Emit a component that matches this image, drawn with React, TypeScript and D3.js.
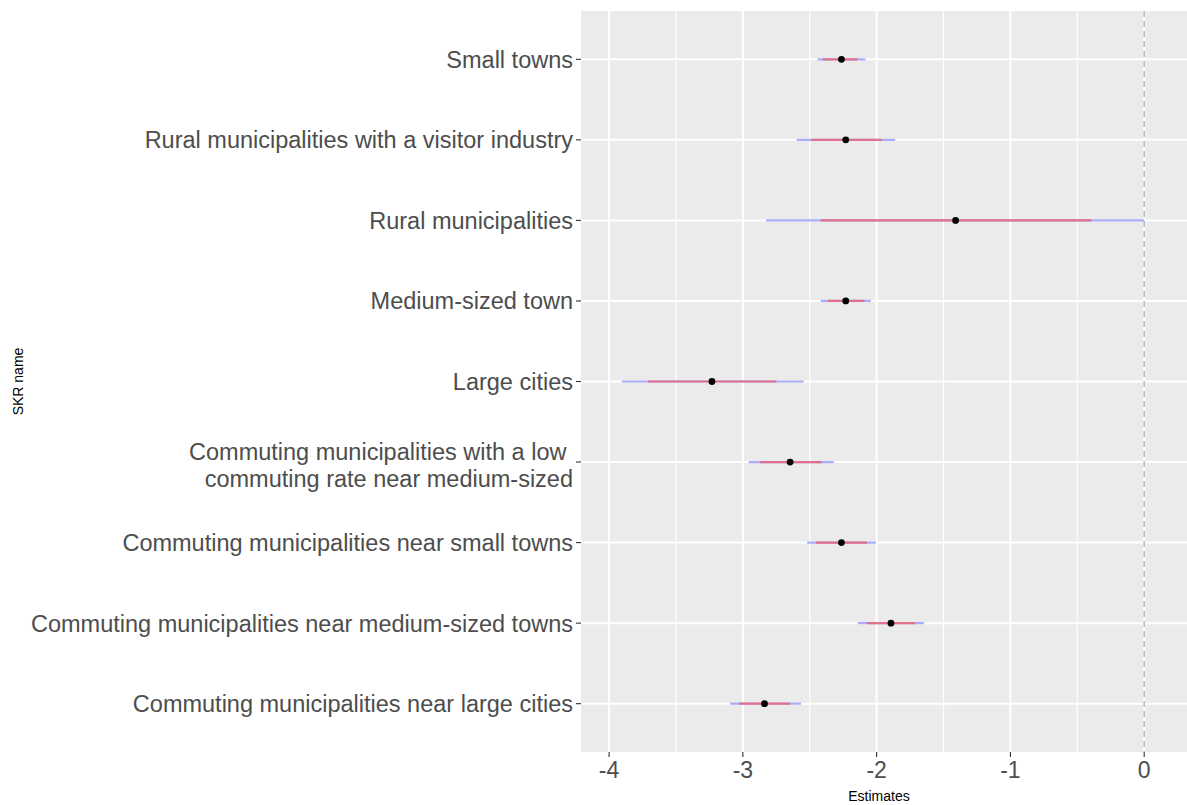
import React, { useEffect } from "react";
import * as d3 from "d3";

// categories, top to bottom as drawn
const categories = [
  "Small towns",
  "Rural municipalities with a visitor industry",
  "Rural municipalities",
  "Medium-sized town",
  "Large cities",
  "Commuting municipalities with a low \ncommuting rate near medium-sized",
  "Commuting municipalities near small towns",
  "Commuting municipalities near medium-sized towns",
  "Commuting municipalities near large cities",
];

// point estimates
const estimates = [-2.263, -2.231, -1.41, -2.231, -3.231, -2.647, -2.263, -1.893, -2.838];
// inner interval (red)
const innerLow = [-2.402, -2.488, -2.419, -2.364, -3.711, -2.87, -2.454, -2.072, -3.029];
const innerHigh = [-2.142, -1.962, -0.396, -2.092, -2.749, -2.41, -2.072, -1.714, -2.647];
// outer interval (blue)
const outerLow = [-2.442, -2.598, -2.827, -2.419, -3.905, -2.957, -2.52, -2.139, -3.095];
const outerHigh = [-2.084, -1.861, 0, -2.043, -2.546, -2.321, -2.006, -1.647, -2.566];

const xTicks = [-4, -3, -2, -1, 0];
const xMinor = [-3.5, -2.5, -1.5, -0.5];

const W = 1187;
const H = 805;
const panel = { left: 581, top: 11, right: 1187, bottom: 752 };

const App = () => {
  useEffect(() => {
    document.body.style.margin = "0";
  }, []);

  const x = d3.scaleLinear().domain([-4.21, 0.32]).range([panel.left, panel.right]);
  const y = d3.scalePoint<string>().domain(categories).range([panel.top, panel.bottom]).padding(0.6);

  const font = "'Liberation Sans', Arial, sans-serif";

  return (
    <svg width={W} height={H} style={{ display: "block", fontFamily: font }}>
      <rect x={0} y={0} width={W} height={H} fill="#ffffff" />
      {/* panel */}
      <rect
        x={panel.left}
        y={panel.top}
        width={panel.right - panel.left}
        height={panel.bottom - panel.top}
        fill="#ebebeb"
      />
      {/* minor grid */}
      {xMinor.map((t) => (
        <line key={"m" + t} x1={x(t)} x2={x(t)} y1={panel.top} y2={panel.bottom} stroke="#ffffff" strokeWidth={1.2} />
      ))}
      {/* major grid */}
      {xTicks.map((t) => (
        <line key={"g" + t} x1={x(t)} x2={x(t)} y1={panel.top} y2={panel.bottom} stroke="#ffffff" strokeWidth={2} />
      ))}
      {categories.map((c) => (
        <line key={"h" + c} x1={panel.left} x2={panel.right} y1={y(c)} y2={y(c)} stroke="#ffffff" strokeWidth={2} />
      ))}
      {/* zero reference line */}
      <line
        x1={x(0)}
        x2={x(0)}
        y1={panel.top}
        y2={panel.bottom}
        stroke="#bdbdbd"
        strokeWidth={1.6}
        strokeDasharray="6,4"
      />
      {/* intervals */}
      {categories.map((c, i) => (
        <g key={"e" + i}>
          <line x1={x(outerLow[i])} x2={x(outerHigh[i])} y1={y(c)} y2={y(c)} stroke="#aaaef8" strokeWidth={2.2} />
          <line x1={x(innerLow[i])} x2={x(innerHigh[i])} y1={y(c)} y2={y(c)} stroke="#e0708c" strokeWidth={2.2} />
          <circle cx={x(estimates[i])} cy={y(c)} r={3.4} fill="#000000" />
        </g>
      ))}
      {/* y axis ticks and labels */}
      {categories.map((c) => {
        const lines = c.split("\n");
        const lh = 27;
        const y0 = (y(c) as number) - ((lines.length - 1) * lh) / 2;
        return (
          <g key={"y" + c}>
            <line x1={panel.left - 5} x2={panel.left} y1={y(c)} y2={y(c)} stroke="#333333" strokeWidth={1.1} />
            {lines.map((l, j) => (
              <text
                key={j}
                x={panel.left - 8}
                y={y0 + j * lh + (lines.length > 1 ? 3 : 0)}
                dy="0.36em"
                textAnchor="end"
                fontSize={23.5}
                fill="#4d4d4d"
                style={{ whiteSpace: "pre" }}
              >
                {l}
              </text>
            ))}
          </g>
        );
      })}
      {/* x axis */}
      {xTicks.map((t) => (
        <g key={"x" + t}>
          <line x1={x(t)} x2={x(t)} y1={panel.bottom} y2={panel.bottom + 5} stroke="#333333" strokeWidth={1.1} />
          <text x={x(t)} y={panel.bottom + 26} textAnchor="middle" fontSize={23} fill="#4d4d4d">
            {t}
          </text>
        </g>
      ))}
      <text x={(panel.left + panel.right) / 2 - 5} y={801} textAnchor="middle" fontSize={14} fill="#000000">
        Estimates
      </text>
      <text
        transform={`translate(23,${(panel.top + panel.bottom) / 2}) rotate(-90)`}
        textAnchor="middle"
        fontSize={14}
        fill="#000000"
      >
        SKR name
      </text>
    </svg>
  );
};

export default App;
